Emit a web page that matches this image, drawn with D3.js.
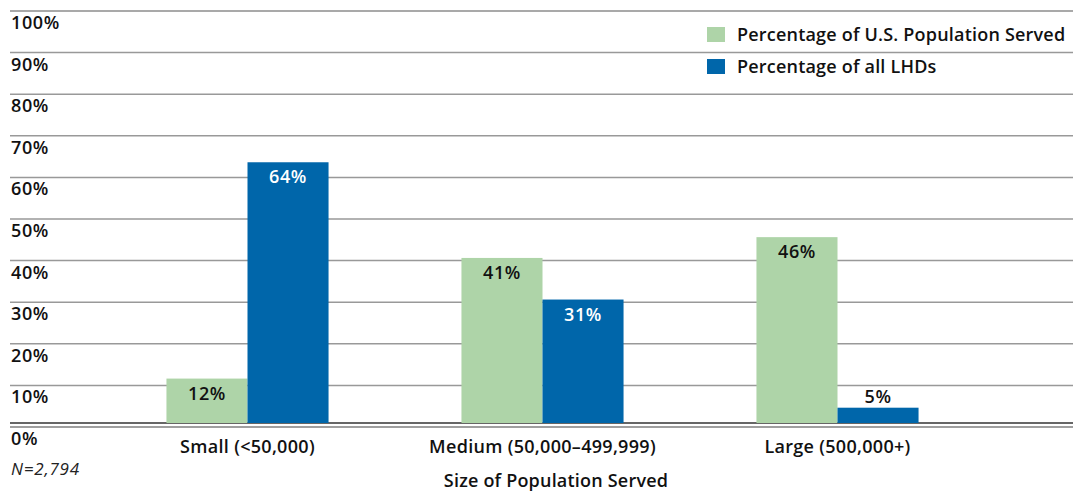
<!DOCTYPE html>
<html><head><meta charset="utf-8">
<script src="https://cdn.jsdelivr.net/npm/d3@7"></script>
<style>
html,body{margin:0;padding:0;background:#fff;}
svg text{font-family:"Open Sans","Noto Sans",sans-serif;}
</style></head>
<body><svg id="c" width="1074" height="493"></svg>
<script>
const categories = ["Small (<50,000)", "Medium (50,000\u2013499,999)", "Large (500,000+)"];
const seriesNames = ["Percentage of U.S. Population Served", "Percentage of all LHDs"];
const popServed = [12, 41, 46];
const allLHDs = [64, 31, 5];
const tickValues = [0, 10, 20, 30, 40, 50, 60, 70, 80, 90, 100];
const tickLabels = ["0%", "10%", "20%", "30%", "40%", "50%", "60%", "70%", "80%", "90%", "100%"];
const xTitle = "Size of Population Served";
const note = "N=2,794";
const colors = ["#aed4a8", "#0066aa"];

const FS = 18;
const svg = d3.select("#c");
const y = d3.scaleLinear().domain([0, 100]).range([427, 11]);
const x0 = d3.scaleBand().domain(categories).range([100, 985]).padding(0);
const x1 = d3.scaleBand().domain(seriesNames).range([0, x0.bandwidth()]).paddingInner(0).paddingOuter(0.82);

function txt(sel) {
  return sel.attr("font-size", FS).attr("font-weight", 600).attr("fill", "#111");
}

// gridlines
const grid = svg.append("g");
tickValues.forEach((v, i) => {
  grid.append("line")
    .attr("x1", 10).attr("x2", 1073)
    .attr("y1", y(v)).attr("y2", y(v))
    .attr("stroke", v === 100 ? "#555" : "#999")
    .attr("stroke-width", v === 100 ? 1.2 : 1.5);
  txt(grid.append("text"))
    .attr("x", 11).attr("y", y(v) + 18)
    .attr("letter-spacing", "0.6")
    .text(tickLabels[i]);
});

// baseline dark line
const baseY = y(0) - 4;
svg.append("line").attr("x1", 10).attr("x2", 1073).attr("y1", baseY).attr("y2", baseY)
  .attr("stroke", "#333").attr("stroke-width", 1.6);

const data = categories.map((c, i) => ({cat: c, vals: [popServed[i], allLHDs[i]]}));
const groups = svg.append("g").selectAll("g").data(data).join("g")
  .attr("transform", d => `translate(${x0(d.cat)},0)`);

groups.each(function(d) {
  const g = d3.select(this);
  d.vals.forEach((v, j) => {
    const bx = x1(seriesNames[j]);
    const top = y(v) + 1.5;
    g.append("rect")
      .attr("x", bx).attr("width", x1.bandwidth())
      .attr("y", top).attr("height", baseY - top)
      .attr("fill", colors[j]);
    const inside = v >= 8;
    txt(g.append("text"))
      .attr("x", bx + x1.bandwidth() / 2)
      .attr("y", inside ? top + 21 : top - 5)
      .attr("text-anchor", "middle")
      .attr("letter-spacing", "0.6")
      .attr("fill", inside && j === 1 ? "#fff" : "#111")
      .text(v + "%");
  });
});

// category labels
txt(svg.append("g").selectAll("text").data(categories).join("text"))
  .attr("x", d => x0(d) + x0.bandwidth() / 2)
  .attr("y", 453)
  .attr("text-anchor", "middle")
  .attr("letter-spacing", "0.3")
  .text(d => d);

txt(svg.append("text")).attr("x", 556).attr("y", 487).attr("text-anchor", "middle")
  .attr("letter-spacing", "0.2")
  .text(xTitle);

svg.append("text").attr("x", 11).attr("y", 475)
  .attr("font-size", 17).attr("font-style", "italic").attr("fill", "#222")
  .attr("letter-spacing", "0.8")
  .text(note);

// second baseline line (gray)
svg.append("line").attr("x1", 10).attr("x2", 1073).attr("y1", y(0)).attr("y2", y(0))
  .attr("stroke", "#999").attr("stroke-width", 1.5);

// legend
const leg = svg.append("g");
seriesNames.forEach((s, i) => {
  const ly = 27 + i * 32;
  leg.append("rect").attr("x", 707).attr("y", ly).attr("width", 18).attr("height", 15)
    .attr("fill", colors[i]);
  txt(leg.append("text")).attr("x", 737).attr("y", ly + 13.5)
    .attr("letter-spacing", "0.2")
    .text(s);
});
</script></body></html>
